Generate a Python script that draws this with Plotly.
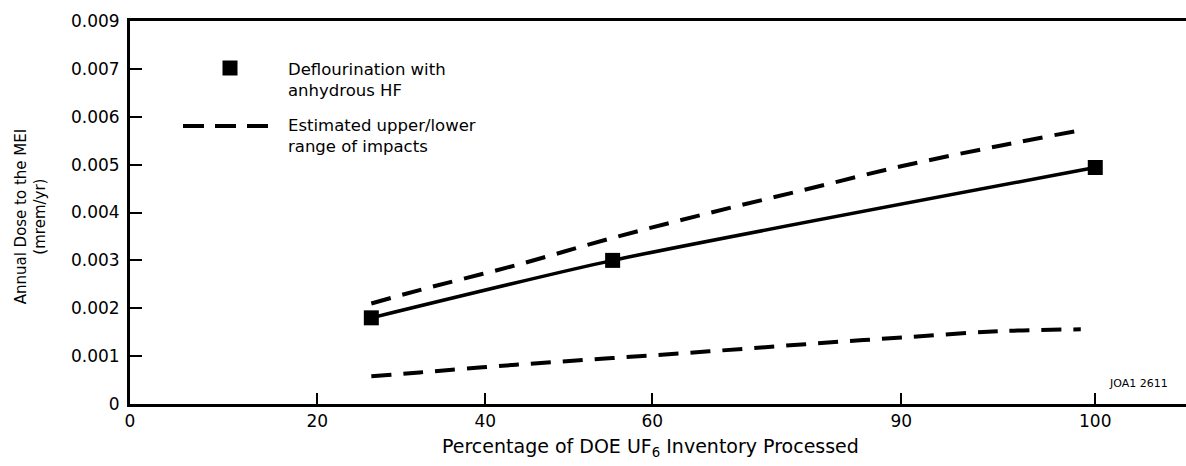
import plotly.graph_objects as go

# Percentage of inventory processed and annual dose (mrem/yr)
pct_processed = [25, 50, 100]
dose_hf = [0.0018, 0.0030, 0.00494]

# Estimated upper and lower bounds of impacts
range_pct = [25, 30, 40, 50, 60, 70, 80, 90, 98]
upper_dose = [0.00210, 0.00238, 0.00290, 0.00347, 0.00399, 0.00448, 0.00497, 0.00539, 0.00570]
lower_pct = [25, 30, 40, 50, 60, 70, 80, 90, 98.5]
lower_dose = [0.00058, 0.00066, 0.00082, 0.00096, 0.00110, 0.00125, 0.00139, 0.00152, 0.00156]

# Axis ticks
x_tickvals = [0, 19.4, 36.8, 54.1, 79.9, 100]
x_ticktext = ["0", "20", "40", "60", "90", "100"]
y_tickvals = [0, 0.001, 0.002, 0.003, 0.004, 0.005, 0.006, 0.007, 0.008]
y_ticktext = ["0", "0.001", "0.002", "0.003", "0.004", "0.005", "0.006", "0.007", "0.009"]

FONT = "DejaVu Sans, Arial, sans-serif"
DASH = "20px,12px"

fig = go.Figure()

fig.add_trace(go.Scatter(
    x=range_pct, y=upper_dose, mode="lines",
    line=dict(color="black", width=4, dash=DASH, shape="spline"),
    hoverinfo="skip",
))
fig.add_trace(go.Scatter(
    x=lower_pct, y=lower_dose, mode="lines",
    line=dict(color="black", width=4, dash=DASH, shape="spline"),
    hoverinfo="skip",
))
fig.add_trace(go.Scatter(
    x=pct_processed, y=dose_hf, mode="lines+markers",
    line=dict(color="black", width=3.5, shape="spline", smoothing=0.6),
    marker=dict(symbol="square", size=15, color="black"),
))

# Hand-drawn key in the upper-left corner
fig.add_shape(type="rect", xref="paper", yref="paper",
              x0=(222.5 - 130) / 1056, x1=(237.5 - 130) / 1056,
              y0=(404 - 75.5) / 383, y1=(404 - 60.5) / 383,
              fillcolor="black", line=dict(width=0))
fig.add_shape(type="line", xref="paper", yref="paper",
              x0=(183 - 130) / 1056, x1=(268 - 130) / 1056,
              y0=(404 - 126) / 383, y1=(404 - 126) / 383,
              line=dict(color="black", width=4, dash="21px,11px"))
fig.add_annotation(text="Deflourination with<br>anhydrous HF",
                   xref="paper", yref="paper", x=(286 - 130) / 1056, y=(404 - 58) / 383,
                   xanchor="left", yanchor="top", align="left", showarrow=False,
                   font=dict(family=FONT, size=16.5, color="black"))
fig.add_annotation(text="Estimated upper/lower<br>range of impacts",
                   xref="paper", yref="paper", x=(286 - 130) / 1056, y=(404 - 114) / 383,
                   xanchor="left", yanchor="top", align="left", showarrow=False,
                   font=dict(family=FONT, size=16.5, color="black"))

# Axis titles
fig.add_annotation(text="Annual Dose to the MEI<br>(mrem/yr)",
                   xref="paper", yref="paper", x=(31 - 130) / 1056, y=0.49,
                   xanchor="center", yanchor="middle", textangle=-90, showarrow=False,
                   font=dict(family=FONT, size=15, color="black"))
fig.add_annotation(text="Percentage of DOE UF<sub>6</sub> Inventory Processed",
                   xref="paper", yref="paper", x=(650 - 130) / 1056, y=(404 - 448) / 383,
                   xanchor="center", yanchor="middle", showarrow=False,
                   font=dict(family=FONT, size=19, color="black"))
fig.add_annotation(text="JOA1 2611",
                   xref="paper", yref="paper", x=(1138 - 130) / 1056, y=(404 - 383) / 383,
                   xanchor="center", yanchor="middle", showarrow=False,
                   font=dict(family=FONT, size=11, color="black"))

fig.update_layout(
    width=1186, height=466,
    margin=dict(l=130, r=0, t=21, b=62),
    paper_bgcolor="white", plot_bgcolor="white",
    showlegend=False,
    font=dict(family=FONT, size=17, color="black"),
    xaxis=dict(
        range=[0, 109.4], tickvals=x_tickvals, ticktext=x_ticktext,
        showgrid=False, zeroline=False,
        showline=True, linecolor="black", linewidth=3, mirror=True,
        ticks="inside", ticklen=11, tickwidth=2, tickcolor="black",
        tickfont=dict(family=FONT, size=17),
    ),
    yaxis=dict(
        range=[0, 0.008], tickvals=y_tickvals, ticktext=y_ticktext,
        showgrid=False, zeroline=False,
        showline=True, linecolor="black", linewidth=3,
        ticks="inside", ticklen=12, tickwidth=2, tickcolor="black",
        tickfont=dict(family=FONT, size=17), ticklabelstandoff=4,
    ),
)

fig.write_html("out.html")
